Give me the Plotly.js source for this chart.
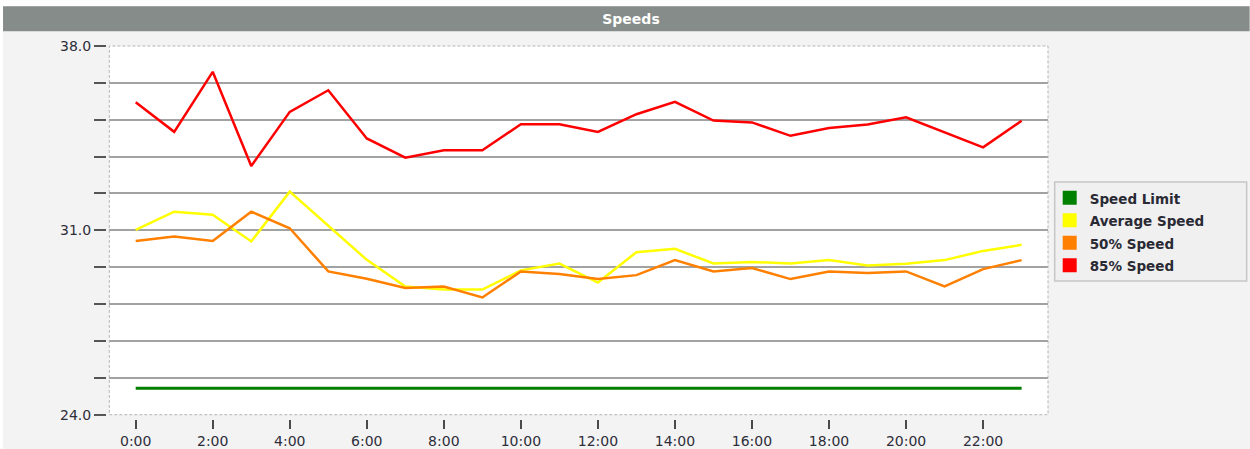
<!DOCTYPE html>
<html>
<head>
<meta charset="utf-8">
<script src="https://cdn.plot.ly/plotly-3.0.1.min.js"></script>
<style>
  html, body { margin: 0; padding: 0; background: #ffffff; }
  #chart { width: 1250px; height: 449px; }
</style>
</head>
<body>
<div id="chart"></div>
<script>
// ---------------- data ----------------
const hours = [0, 1, 2, 3, 4, 5, 6, 7, 8, 9, 10, 11, 12, 13, 14, 15, 16, 17, 18, 19, 20, 21, 22, 23];
const hourTickVals = [0, 2, 4, 6, 8, 10, 12, 14, 16, 18, 20, 22];
const hourTickText = ['0:00', '2:00', '4:00', '6:00', '8:00', '10:00', '12:00', '14:00', '16:00', '18:00', '20:00', '22:00'];
const speedTickVals = [24.0, 25.4, 26.8, 28.2, 29.6, 31.0, 32.4, 33.8, 35.2, 36.6, 38.0];
const speedTickText = ['24.0', '', '', '', '', '31.0', '', '', '', '', '38.0'];
const speedGridVals = [25.4, 26.8, 28.2, 29.6, 31.0, 32.4, 33.8, 35.2, 36.6];
const speedRange = [24, 38];

const seriesNames = ['Speed Limit', 'Average Speed', '50% Speed', '85% Speed'];
const speedLimit = [25, 25, 25, 25, 25, 25, 25, 25, 25, 25, 25, 25, 25, 25, 25, 25, 25, 25, 25, 25, 25, 25, 25, 25];
const averageSpeed = [31.02, 31.71, 31.59, 30.58, 32.47, 31.18, 29.88, 28.87, 28.75, 28.75, 29.48, 29.74,
                      29.02, 30.17, 30.30, 29.74, 29.80, 29.74, 29.87, 29.67, 29.73, 29.87, 30.22, 30.45];
const speed50 = [30.60, 30.77, 30.60, 31.71, 31.08, 29.44, 29.16, 28.81, 28.87, 28.45, 29.44, 29.34,
                 29.15, 29.30, 29.87, 29.44, 29.57, 29.15, 29.44, 29.38, 29.44, 28.87, 29.53, 29.87];
const speed85 = [35.86, 34.74, 37.02, 33.44, 35.50, 36.32, 34.49, 33.76, 34.04, 34.04, 35.03, 35.03,
                 34.74, 35.41, 35.88, 35.17, 35.10, 34.59, 34.89, 35.02, 35.29, 34.72, 34.15, 35.16];

// ---------------- styling / layout ----------------
const colors = ['#008000', '#ffff00', '#ff8000', '#ff0000'];
const lineWidths = [3, 2.5, 2.5, 2.5];
const seriesValues = [speedLimit, averageSpeed, speed50, speed85];

const W = 1250, H = 449;
const M = { l: 106, r: 201.7, t: 45.7, b: 29.7 };
const PW = W - M.l - M.r, PH = H - M.t - M.b;
const px = v => (v - M.l) / PW;          // pixel x -> paper x
const py = v => (H - M.b - v) / PH;      // pixel y -> paper y

const traces = [];
seriesValues.forEach((vals, i) => {
  traces.push({
    x: hours, y: vals, type: 'scatter', mode: 'lines',
    line: { color: colors[i], width: lineWidths[i] },
    showlegend: false, hoverinfo: 'skip', xaxis: 'x', yaxis: 'y'
  });
});
// legend entries (square swatches), on the grid axis so that it is drawn
seriesNames.forEach((name, i) => {
  traces.push({
    x: [null], y: [null], type: 'scatter', mode: 'markers',
    marker: { symbol: 'square', size: 14, color: colors[i] },
    name: '<span style="font-size:13.5px">' + name + '</span>',
    showlegend: true, hoverinfo: 'skip', xaxis: 'x', yaxis: 'y2'
  });
});

const tickFont = { family: 'DejaVu Sans', size: 14, color: '#2e2e3a' };

const layout = {
  width: W, height: H,
  margin: M,
  paper_bgcolor: '#f3f3f3',
  plot_bgcolor: '#ffffff',
  title: {
    text: 'Speeds', xref: 'container', yref: 'container',
    x: 631 / W, y: 1 - 19 / H, xanchor: 'center', yanchor: 'middle',
    font: { family: 'DejaVu Sans', size: 14, color: '#ffffff', weight: 'bold' }
  },
  xaxis: {
    domain: [(109.3 - M.l) / PW, 1],
    range: [-0.685, 23.685],
    anchor: 'free', position: 0,
    tickvals: hourTickVals, ticktext: hourTickText,
    ticks: 'outside', ticklen: 9, tickwidth: 2, tickcolor: '#4a4a4a',
    showgrid: false, zeroline: false, showline: false,
    tickfont: tickFont
  },
  yaxis: {
    domain: [(419.3 - 415) / PH, 1],
    range: speedRange,
    anchor: 'free', position: 0,
    tickvals: speedTickVals, ticktext: speedTickText,
    ticks: 'outside', ticklen: 12, tickwidth: 2, tickcolor: '#555555',
    showgrid: false, zeroline: false, showline: false,
    tickfont: tickFont
  },
  yaxis2: {
    overlaying: 'y', anchor: 'x', side: 'left',
    range: speedRange,
    tickvals: speedGridVals, showticklabels: false, ticks: '',
    showgrid: true, gridcolor: '#a2a2a2', gridwidth: 2,
    zeroline: false, showline: false
  },
  showlegend: true,
  legend: {
    x: px(1050), y: py(181.5), xanchor: 'left', yanchor: 'top',
    bgcolor: 'rgba(0,0,0,0)', borderwidth: 0,
    font: { family: 'DejaVu Sans', size: 15, color: '#2a2a35', weight: 'bold' },
    itemwidth: 30, traceorder: 'normal'
  },
  shapes: [
    { type: 'rect', xref: 'paper', yref: 'paper', x0: px(0), x1: px(W), y0: py(6), y1: py(0),
      fillcolor: '#ffffff', line: { width: 0 }, layer: 'below' },
    { type: 'rect', xref: 'paper', yref: 'paper', x0: px(0), x1: px(3), y0: py(H), y1: py(0),
      fillcolor: '#ffffff', line: { width: 0 }, layer: 'below' },
    { type: 'rect', xref: 'paper', yref: 'paper', x0: px(3), x1: px(W), y0: py(31), y1: py(6),
      fillcolor: '#868c89', line: { width: 0 }, layer: 'below' },
    { type: 'rect', xref: 'paper', yref: 'paper', x0: px(1055), x1: px(1247), y0: py(281), y1: py(182),
      fillcolor: '#f0f0f0', line: { color: '#c6c6c6', width: 1.5 }, layer: 'below' },
    { type: 'rect', xref: 'x domain', yref: 'y domain', x0: 0, x1: 1, y0: 0, y1: 1,
      line: { color: '#b4b4b4', width: 1, dash: '3px,2px' }, layer: 'above' }
  ]
};

Plotly.newPlot('chart', traces, layout, { displayModeBar: false, staticPlot: true });
</script>
</body>
</html>
